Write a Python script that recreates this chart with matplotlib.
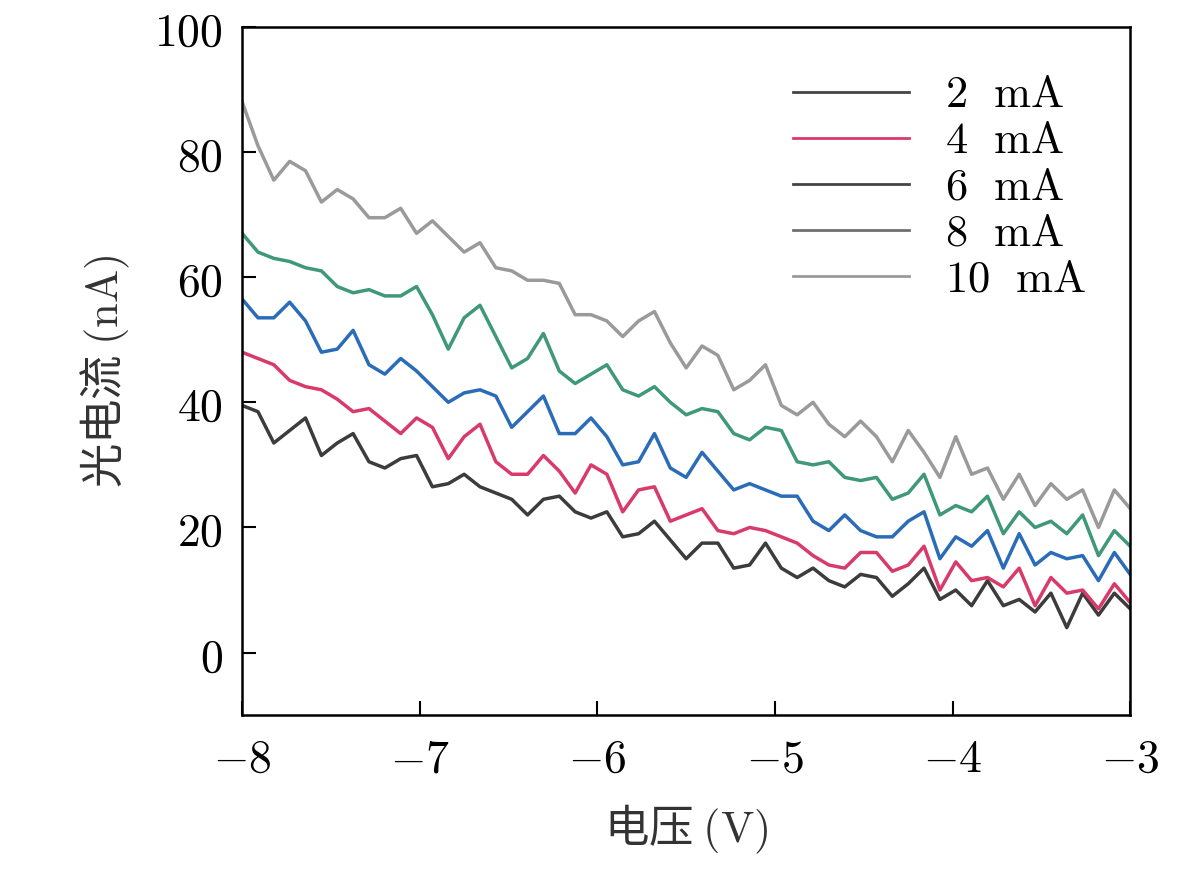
import numpy as np
import matplotlib
matplotlib.use('Agg')
import matplotlib.pyplot as plt
from matplotlib.lines import Line2D

plt.rcParams['font.family'] = ['Noto Sans CJK SC', 'DejaVu Sans']
plt.rcParams['mathtext.fontset'] = 'cm'

# photocurrent (nA), voltage from -8 V to -3 V
i10 = [88, 81, 75.5, 78.5, 77, 72, 74, 72.5, 69.5, 69.5, 71, 67, 69, 66.5, 64, 65.5, 61.5, 61, 59.5,
       59.5, 59, 54, 54, 53, 50.5, 53, 54.5, 49.5, 45.5, 49, 47.5, 42, 43.5, 46, 39.5, 38, 40, 36.5,
       34.5, 37, 34.5, 30.5, 35.5, 32, 28, 34.5, 28.5, 29.5, 24.5, 28.5, 23.5, 27, 24.5, 26, 20, 26, 23]
i8 = [67, 64, 63, 62.5, 61.5, 61, 58.5, 57.5, 58, 57, 57, 58.5, 54, 48.5, 53.5, 55.5, 50.5, 45.5, 47,
      51, 45, 43, 44.5, 46, 42, 41, 42.5, 40, 38, 39, 38.5, 35, 34, 36, 35.5, 30.5, 30, 30.5, 28, 27.5,
      28, 24.5, 25.5, 28.5, 22, 23.5, 22.5, 25, 19, 22.5, 20, 21, 19, 22, 15.5, 19.5, 17]
i6 = [56.5, 53.5, 53.5, 56, 53, 48, 48.5, 51.5, 46, 44.5, 47, 45, 42.5, 40, 41.5, 42, 41, 36, 38.5,
      41, 35, 35, 37.5, 34.5, 30, 30.5, 35, 29.5, 28, 32, 29, 26, 27, 26, 25, 25, 21, 19.5, 22, 19.5,
      18.5, 18.5, 21, 22.5, 15, 18.5, 17, 19.5, 13.5, 19, 14, 16, 15, 15.5, 11.5, 16, 12.5]
i4 = [48, 47, 46, 43.5, 42.5, 42, 40.5, 38.5, 39, 37, 35, 37.5, 36, 31, 34.5, 36.5, 30.5, 28.5, 28.5,
      31.5, 29, 25.5, 30, 28.5, 22.5, 26, 26.5, 21, 22, 23, 19.5, 19, 20, 19.5, 18.5, 17.5, 15.5, 14,
      13.5, 16, 16, 13, 14, 17, 10, 14.5, 11.5, 12, 10.5, 13.5, 7.5, 12, 9.5, 10, 7, 11, 8]
i2 = [39.5, 38.5, 33.5, 35.5, 37.5, 31.5, 33.5, 35, 30.5, 29.5, 31, 31.5, 26.5, 27, 28.5, 26.5, 25.5,
      24.5, 22, 24.5, 25, 22.5, 21.5, 22.5, 18.5, 19, 21, 18, 15, 17.5, 17.5, 13.5, 14, 17.5, 13.5, 12,
      13.5, 11.5, 10.5, 12.5, 12, 9, 11, 13.5, 8.5, 10, 7.5, 11.5, 7.5, 8.5, 6.5, 9.5, 4, 9.5, 6, 9.5, 7]

labels = ['2 mA', '4 mA', '6 mA', '8 mA', '10 mA']
series = [i2, i4, i6, i8, i10]
colors = ['#3c3c3c', '#d83a6a', '#2a6cb8', '#3f9878', '#9a9a9a']
legend_colors = ['#444444', '#d83a6a', '#444444', '#707070', '#9a9a9a']

fig, ax = plt.subplots(figsize=(11.81, 8.94), dpi=100)
fig.subplots_adjust(left=0.205, right=0.957, top=0.97, bottom=0.2)

for vals, c in zip(series, colors):
    x = np.linspace(-8, -3, len(vals))
    ax.plot(x, vals, color=c, lw=2.5)

ax.set_xlim(-8, -3)
ax.set_ylim(-10, 100)
ax.set_xticks([-8, -7, -6, -5, -4, -3])
ax.set_xticklabels([f'$-{v}$' for v in [8, 7, 6, 5, 4, 3]])
ax.set_yticks([0, 20, 40, 60, 80, 100])
ax.set_yticklabels([f'${v}$' for v in [0, 20, 40, 60, 80, 100]])
ax.tick_params(labelsize=33, direction='in', length=10, width=1.5, pad=14)
for s in ax.spines.values():
    s.set_linewidth(1.8)

ax.set_xlabel('电压 ' + r'$(\mathrm{V})$', fontsize=32, color='#333333', labelpad=14)
ax.set_ylabel('光电流 ' + r'$(\mathrm{nA})$', fontsize=32, color='#333333', labelpad=16)

handles = [Line2D([], [], color=c, lw=2) for c in legend_colors]
ax.legend(handles, [r'$' + l.replace(' ', r'\ \ \mathrm{') + '}$' for l in labels],
          loc='upper right', frameon=False, fontsize=32, handlelength=2.6,
          labelspacing=0.0, borderaxespad=0.6)

fig.savefig('out.png')
